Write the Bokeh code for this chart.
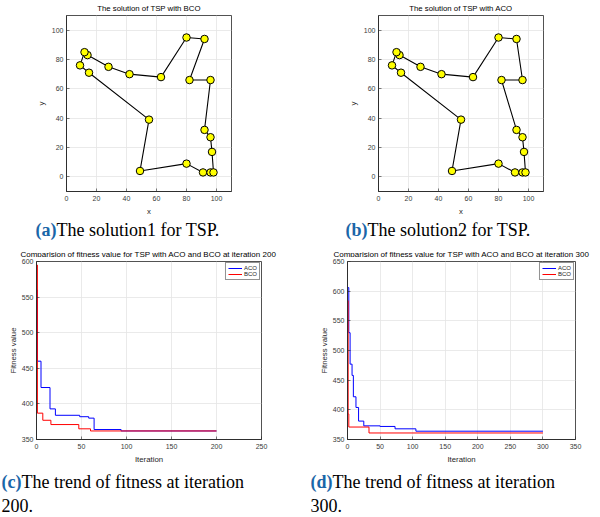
from bokeh.plotting import figure
from bokeh.models import Range1d, Label, FixedTicker
from bokeh.layouts import column, row
from bokeh.embed import file_html
from bokeh.resources import INLINE

# ---------------- data ----------------
city_x = [15, 55, 49, 80, 91, 96, 98, 97, 96, 92, 96, 82, 92, 80, 63, 42, 28, 14, 12, 9]
city_y = [71, 39, 4, 9, 3, 3, 3, 17, 27, 32, 66, 66, 94, 95, 68, 70, 75, 83, 85, 76]
tour_bco = [0, 1, 2, 3, 4, 5, 6, 7, 8, 9, 10, 11, 12, 13, 14, 15, 16, 17, 18, 19, 0]
tour_aco = [0, 1, 2, 3, 4, 5, 6, 7, 8, 9, 11, 10, 12, 13, 14, 15, 16, 17, 18, 19, 0]

tsp_ticks = [0, 20, 40, 60, 80, 100]

iter200_aco_x = [0, 1, 5, 15, 21, 48, 58, 64, 94, 200]
iter200_aco_y = [560, 460, 423, 393, 384, 382, 380, 364, 362, 362]
iter200_bco_x = [0, 1, 7, 16, 47, 60, 200]
iter200_bco_y = [595, 387, 377, 371, 365, 362, 362]

iter300_aco_x = [0, 2, 4, 7, 9, 13, 17, 25, 50, 73, 105, 300]
iter300_aco_y = [606, 530, 477, 458, 422, 404, 381, 373, 372, 368, 364, 364]
iter300_bco_x = [0, 1, 2, 33, 300]
iter300_bco_y = [584, 393, 371, 361, 361]

c_xticks = [0, 50, 100, 150, 200, 250]
c_yticks = [350, 400, 450, 500, 550, 600]
d_xticks = [0, 50, 100, 150, 200, 250, 300, 350]
d_yticks = [350, 400, 450, 500, 550, 600, 650]

titles = ["The solution of TSP with BCO", "The solution of TSP with ACO",
          "Comparision of fitness value for TSP with ACO and BCO at iteration 200",
          "Comparision of fitness value for TSP with ACO and BCO at iteration 300"]
cap_tags = ["(a)", "(b)", "(c)", "(d)"]
cap_texts = ["The solution1 for TSP.", "The solution2 for TSP.",
             "The trend of fitness at iteration", "The trend of fitness at iteration"]
cap_line2 = ["200.", "300."]

AX = "#262626"
GRID = "#e4e4e4"
SANS = "Liberation Sans"
SERIF = "Liberation Serif"
CAP_BLUE = "#1a66a8"


def make_fig(w, h, xr, yr, ml, mr, mt, mb, xticks, yticks, xlabel, ylabel, ylab_standoff):
    p = figure(width=w, height=h, x_range=Range1d(*xr), y_range=Range1d(*yr),
               output_backend="svg", toolbar_location=None,
               min_border_left=ml, min_border_right=mr, min_border_top=mt, min_border_bottom=mb)
    p.outline_line_color = AX
    p.outline_line_width = 0.8
    p.background_fill_color = "white"
    p.border_fill_color = "white"
    for ax, ticks in ((p.xaxis, xticks), (p.yaxis, yticks)):
        ax.ticker = FixedTicker(ticks=ticks)
        ax.major_tick_in = 3
        ax.major_tick_out = 0
        ax.minor_tick_in = 0
        ax.minor_tick_out = 0
        ax.axis_line_color = AX
        ax.axis_line_width = 0.8
        ax.major_tick_line_color = AX
        ax.major_tick_line_width = 0.6
        ax.major_label_text_font = SANS
        ax.major_label_text_font_size = "7px"
        ax.major_label_text_color = "#3a3a3a"
        ax.axis_label_text_font = SANS
        ax.axis_label_text_font_size = "7.8px"
        ax.axis_label_text_font_style = "normal"
        ax.axis_label_text_color = AX
    p.xaxis.axis_label = xlabel
    p.yaxis.axis_label = ylabel
    p.xaxis.major_label_standoff = 4
    p.yaxis.major_label_standoff = 3
    p.xaxis.axis_label_standoff = 3
    p.yaxis.axis_label_standoff = ylab_standoff
    p.xgrid.grid_line_color = GRID
    p.ygrid.grid_line_color = GRID
    p.xgrid.grid_line_width = 0.8
    p.ygrid.grid_line_width = 0.8
    return p


def tsp_panel(w, ml, mr, tour):
    p = make_fig(w, 205, (0, 110), (-10, 110), ml, mr, 2, 25, tsp_ticks, tsp_ticks, "x", "y", 3)
    xs = [city_x[i] for i in tour]
    ys = [city_y[i] for i in tour]
    p.line(xs, ys, line_color="black", line_width=1.1)
    p.scatter(city_x, city_y, size=7.5, fill_color="#ffff00", line_color="black", line_width=1)
    return p


def fit_panel(w, ml, mr, xr, yr, xt, yt, ax_, ay_, bx_, by_):
    p = make_fig(w, 209, xr, yr, ml, mr, 4, 27, xt, yt, "Iteration", "Fitness value", 1)
    p.step(ax_, ay_, mode="after", line_color="#0000ff", line_width=1, legend_label="ACO")
    p.step(bx_, by_, mode="after", line_color="#ff0000", line_width=1, legend_label="BCO")
    lg = p.legend[0]
    lg.location = "top_right"
    lg.margin = 1
    lg.padding = 2
    lg.spacing = 0
    lg.border_line_color = AX
    lg.border_line_width = 0.6
    lg.background_fill_color = "white"
    lg.background_fill_alpha = 1
    lg.label_text_font = SANS
    lg.label_text_font_size = "6px"
    lg.label_text_color = AX
    lg.glyph_width = 14
    lg.glyph_height = 6
    lg.label_height = 6
    lg.label_width = 13
    lg.label_standoff = 2
    return p


def text_fig(h):
    p = figure(width=600, height=h, x_range=Range1d(0, 600), y_range=Range1d(h, 0),
               x_axis_type=None, y_axis_type=None, output_backend="svg", toolbar_location=None,
               min_border=0, min_border_left=0, min_border_right=0,
               min_border_top=0, min_border_bottom=0)
    p.outline_line_color = None
    p.background_fill_color = "white"
    p.border_fill_color = "white"
    p.grid.visible = False
    return p


def cap(p, x, y, text, bold=False):
    p.add_layout(Label(x=x, y=y, text=text, text_baseline="middle", text_font=SERIF,
                       text_font_style="bold" if bold else "normal", text_font_size="18px",
                       text_color=CAP_BLUE if bold else "black"))


def ttl(p, x, y, text, size):
    p.add_layout(Label(x=x, y=y, text=text, text_baseline="middle", text_align="center",
                       text_font=SANS, text_font_size=size, text_color="black"))


# strip with the top titles (page y 0..13)
top = text_fig(13)
ttl(top, 148.5, 8.3, titles[0], "7.8px")
ttl(top, 460.5, 8.3, titles[1], "7.8px")

fa = tsp_panel(300, 66, 69, tour_bco)
fb = tsp_panel(300, 78, 57, tour_aco)

# strip with captions (a)/(b) and titles (c)/(d) (page y 218..257)
mid = text_fig(39)
cap(mid, 35, 11, cap_tags[0], True)
cap(mid, 56, 11, cap_texts[0])
cap(mid, 345, 11, cap_tags[1], True)
cap(mid, 367, 11, cap_texts[1])
ttl(mid, 148, 35.5, titles[2], "8px")
ttl(mid, 461, 35.5, titles[3], "8px")

fc = fit_panel(300, 36, 39, (0, 250), (350, 600), c_xticks, c_yticks,
               iter200_aco_x, iter200_aco_y, iter200_bco_x, iter200_bco_y)
fd = fit_panel(300, 47, 25, (0, 350), (350, 650), d_xticks, d_yticks,
               iter300_aco_x, iter300_aco_y, iter300_bco_x, iter300_bco_y)

# strip with captions (c)/(d) (page y 466..517)
bot = text_fig(51)
cap(bot, 1, 15, cap_tags[2], True)
cap(bot, 21, 15, cap_texts[2])
cap(bot, 1, 39, cap_line2[0])
cap(bot, 310, 15, cap_tags[3], True)
cap(bot, 332, 15, cap_texts[3])
cap(bot, 310, 39, cap_line2[1])

layout = column(top, row(fa, fb), mid, row(fc, fd), bot)
open("out.html", "w").write(file_html(layout, INLINE))
